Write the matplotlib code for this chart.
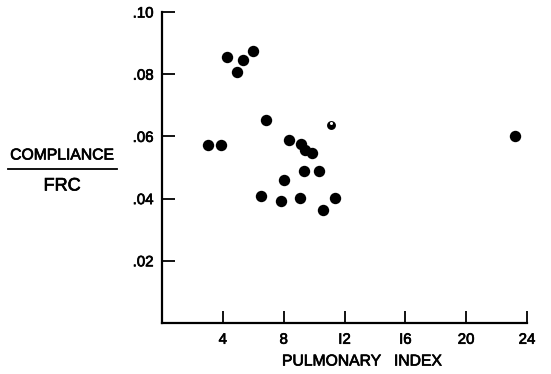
import matplotlib
matplotlib.use("Agg")
import matplotlib.pyplot as plt
from matplotlib.lines import Line2D
import matplotlib.patheffects as pe

plt.rcParams['font.family'] = ['Liberation Sans', 'DejaVu Sans']

# Data
pulmonary_index = [4.28, 5.33, 4.95, 5.99, 6.84, 3.03, 3.88, 8.38, 9.17, 9.43,
                   9.87, 9.34, 10.33, 6.51, 7.85, 8.05, 9.08, 10.57, 11.38, 23.22]
compliance_frc = [0.0854, 0.0845, 0.0807, 0.0875, 0.0652, 0.0573, 0.0573, 0.0589,
                  0.0577, 0.0556, 0.0546, 0.0490, 0.0490, 0.0408, 0.0391, 0.0461,
                  0.0403, 0.0363, 0.0403, 0.0601]
special_x = [11.1]
special_y = [0.0638]

x_ticks = [4, 8, 12, 16, 20, 24]
x_tick_labels = ["4", "8", "I2", "I6", "20", "24"]
y_ticks = [0.02, 0.04, 0.06, 0.08, 0.10]
y_tick_labels = [".02", ".04", ".06", ".08", ".10"]

thick = [pe.withStroke(linewidth=0.5, foreground='black')]

fig = plt.figure(figsize=(5.51, 3.74), dpi=100)
ax = fig.add_axes([162/551, 1-323/374, (527-162)/551, (323-12)/374])

ax.plot(pulmonary_index, compliance_frc, 'o', color='black', markersize=8.2,
        markeredgewidth=0, clip_on=False)
ax.plot(special_x, special_y, 'o', color='black', markersize=6.4,
        markeredgewidth=0, clip_on=False)
ax.plot(special_x, [special_y[0] + 0.0004], 'o', color='white', markersize=2.2,
        markeredgewidth=0, clip_on=False)

ax.set_xlim(0, 24)
ax.set_ylim(0, 0.10)
ax.spines['top'].set_visible(False)
ax.spines['right'].set_visible(False)
for s in ('left', 'bottom'):
    ax.spines[s].set_linewidth(1.6)

ax.set_xticks(x_ticks)
ax.set_xticklabels(x_tick_labels)
ax.set_yticks(y_ticks)
ax.set_yticklabels(y_tick_labels)
ax.tick_params(axis='both', direction='in', length=9, width=1.3, labelsize=10.8, pad=6)
ax.tick_params(axis='x', pad=7)
for lab in ax.get_xticklabels() + ax.get_yticklabels():
    lab.set_path_effects(thick)

fig.text(362/551, 1-361/374, "PULMONARY   INDEX", ha='center', va='center',
         fontsize=11.3, path_effects=thick)
fig.text(62/551, 1-155/374, "COMPLIANCE", ha='center', va='center',
         fontsize=11.3, path_effects=thick)
fig.text(62/551, 1-186/374, "FRC", ha='center', va='center',
         fontsize=13, path_effects=thick)
fig.add_artist(Line2D([8/551, 117/551], [1-169/374, 1-169/374], color='black', linewidth=1.3))

fig.savefig("out.png", dpi=100)
